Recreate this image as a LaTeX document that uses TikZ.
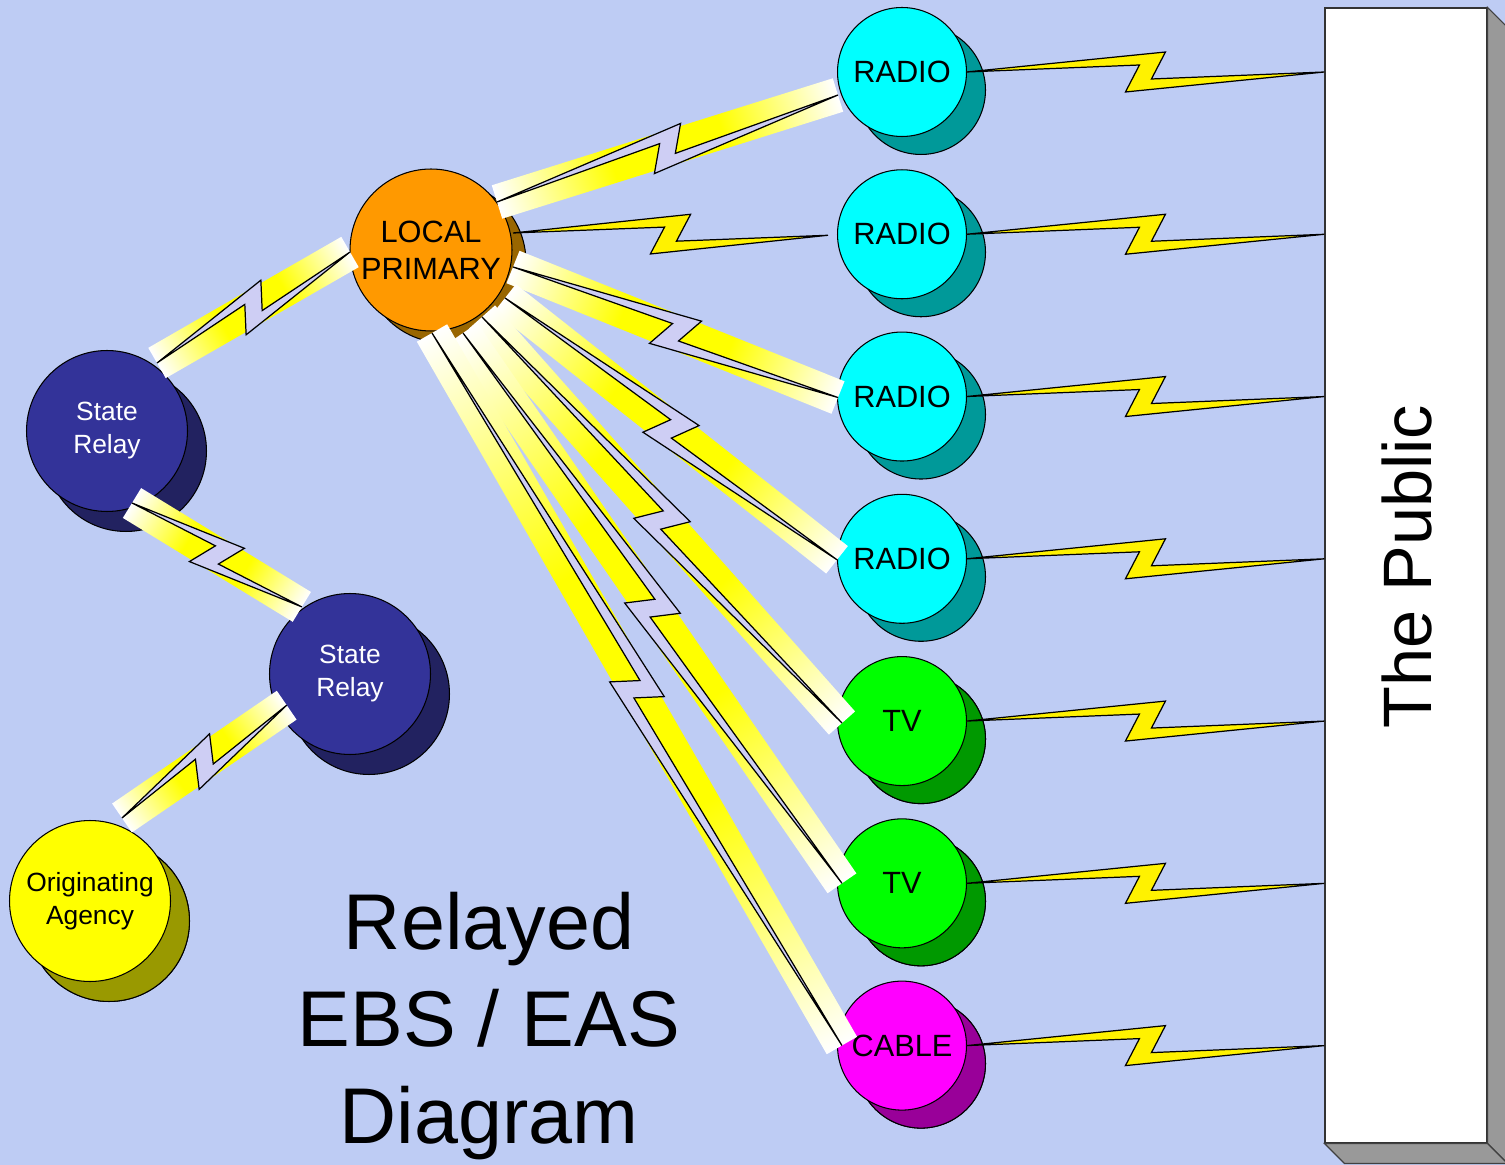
\documentclass[tikz,border=0pt]{standalone}
\usepackage{fontspec}
\setmainfont{Liberation Sans}
\usetikzlibrary{calc}
\usetikzlibrary{positioning}
\usetikzlibrary{shadows}

\definecolor{bgblue}{RGB}{190,204,244}
\definecolor{boltlav}{RGB}{206,206,244}
\definecolor{radiocyan}{RGB}{0,255,255}
\definecolor{radioshade}{RGB}{0,153,153}
\definecolor{tvgreen}{RGB}{0,255,0}
\definecolor{tvshade}{RGB}{0,153,0}
\definecolor{cablemag}{RGB}{255,0,255}
\definecolor{cableshade}{RGB}{153,0,153}
\definecolor{localorange}{RGB}{255,153,0}
\definecolor{localshade}{RGB}{153,102,0}
\definecolor{relaynavy}{RGB}{51,51,153}
\definecolor{relayshade}{RGB}{34,34,96}
\definecolor{originyellow}{RGB}{255,255,0}
\definecolor{originshade}{RGB}{153,153,0}
\definecolor{pubgray}{RGB}{153,153,153}

\pgfdeclarehorizontalshading{bandshade}{100bp}{color(0bp)=(white); color(25bp)=(white); color(42bp)=(yellow);
  color(58bp)=(yellow); color(75bp)=(white); color(100bp)=(white)}

\tikzset{
  disc/.style={circle, draw=black, line width=0.6pt, inner sep=0pt, outer sep=0pt, align=center},
  radio/.style={disc, minimum size=2.58cm, fill=radiocyan, font=\fontsize{17.5}{21}\selectfont,
    drop shadow={opacity=1, fill=radioshade, draw=black, shadow xshift=0.38cm, shadow yshift=-0.36cm}},
  tv/.style={radio, fill=tvgreen,
    drop shadow={opacity=1, fill=tvshade, draw=black, shadow xshift=0.38cm, shadow yshift=-0.36cm}},
  cable/.style={radio, fill=cablemag,
    drop shadow={opacity=1, fill=cableshade, draw=black, shadow xshift=0.38cm, shadow yshift=-0.36cm}},
  local/.style={disc, minimum size=3.24cm, fill=localorange, font=\fontsize{17.5}{21}\selectfont,
    drop shadow={opacity=1, fill=localshade, draw=black, shadow xshift=0.28cm, shadow yshift=-0.24cm}},
  relay/.style={disc, minimum size=3.22cm, fill=relaynavy, text=white, font=\fontsize{15}{18.8}\selectfont,
    drop shadow={opacity=1, fill=relayshade, draw=black, shadow xshift=0.38cm, shadow yshift=-0.4cm}},
  origin/.style={relay, fill=originyellow, text=black,
    drop shadow={opacity=1, fill=originshade, draw=black, shadow xshift=0.38cm, shadow yshift=-0.4cm}},
  bolt/.style={draw=black, line width=0.7pt, line join=miter},
  pubbox/.style={rectangle, draw=black!80, line width=0.7pt, fill=white, minimum width=3.24cm, minimum height=22.7cm},
  pubside/.style={draw=black!75, line width=0.7pt, fill=pubgray},
  pubtext/.style={font=\fontsize{39}{46}\selectfont},
  title/.style={align=center, font=\fontsize{45}{55}\selectfont}
}

\makeatletter
\newdimen\lkdx
\newdimen\lkdy
\newcommand\lkmeasure{%
  \pgfpointdiff{\pgfpointanchor{lka}{center}}{\pgfpointanchor{lkb}{center}}%
  \lkdx=\pgf@x \lkdy=\pgf@y
  \pgfmathanglebetweenpoints{\pgfpointanchor{lka}{center}}{\pgfpointanchor{lkb}{center}}%
  \global\let\lkang\pgfmathresult
  \pgfmathveclen{\lkdx}{\lkdy}%
  \global\let\lklen\pgfmathresult}
\makeatother

% wide relay link: shaded band with a bolt on top
\newcommand\biglink[2]{%
  \coordinate (lka) at (#1);
  \coordinate (lkb) at (#2);
  \lkmeasure
  \begin{scope}[transform canvas={shift={(lka)}, rotate=\lkang}]
  \shade[shading=bandshade] (0cm,-0.35cm) rectangle (\lklen pt,0.35cm);
  \draw[bolt, fill=boltlav] (0cm,0cm) -- (\lklen pt/2+0.4cm,0.4cm) -- (\lklen pt/2+0.12cm,-0.14cm) -- (\lklen pt,0cm)
    -- (\lklen pt/2-0.4cm,-0.4cm) -- (\lklen pt/2-0.12cm,0.14cm) -- cycle;
  \end{scope}}

% plain yellow bolt
\newcommand\smallbolt[2]{%
  \coordinate (lka) at (#1);
  \coordinate (lkb) at (#2);
  \lkmeasure
  \draw[bolt, fill=yellow, shift={(lka)}, rotate=\lkang] (0cm,0cm) -- (\lklen pt/2+0.4cm,0.4cm) -- (\lklen pt/2+0.12cm,-0.14cm)
    -- (\lklen pt,0cm) -- (\lklen pt/2-0.4cm,-0.4cm) -- (\lklen pt/2-0.12cm,0.14cm) -- cycle;}

\begin{document}
\begin{tikzpicture}[x=0.02cm, y=-0.02cm]
\useasboundingbox (0,0) rectangle (1505,1165);
\clip (0,0) rectangle (1505,1165);
\fill[bgblue] (0,0) rectangle (1505,1165);

% the public
\node[pubbox] (pub) at (1406,575.5) {};
\draw[pubside] (pub.north east) -- ++(20,20) -- ($(pub.south east)+(20,20)$) -- (pub.south east) -- cycle;
\draw[pubside] (pub.south west) -- (pub.south east) -- ++(20,20) -- ($(pub.south west)+(20,20)$) -- cycle;
\node[pubtext, rotate=90] (pubt) at ($(pub)+(1,-9)$) {The Public};

% stations
\node[radio] (r1) at (902,72) {RADIO};
\node[radio, below=0.666cm of r1] (r2) {RADIO};
\node[radio, below=0.666cm of r2] (r3) {RADIO};
\node[radio, below=0.666cm of r3] (r4) {RADIO};
\node[tv, below=0.666cm of r4] (tv1) {TV};
\node[tv, below=0.666cm of tv1] (tv2) {TV};
\node[cable, below=0.666cm of tv2] (cab) {CABLE};

\node[local] (loc) at (431,250) {LOCAL\\PRIMARY};
\node[relay] (sr1) at (107,431) {State\\Relay};
\node[relay] (sr2) at (350,674) {State\\Relay};
\node[origin] (org) at (90,901) {Originating\\Agency};

\node[title] (ttl) at (489,1026) {Relayed\\EBS / EAS\\Diagram};

% relay chain
\biglink{$(org)+(32,-83)$}{$(sr2)+(-63,31)$}
\biglink{$(sr1)+(25,72)$}{$(sr2)+(-48,-67)$}
\biglink{$(sr1)+(50,-68)$}{$(loc)+(-81,2)$}

% local primary to stations
\biglink{$(loc)+(66,-48)$}{$(r1)+(-64,23)$}
\smallbolt{$(loc)+(82,-17)$}{$(r2)+(-74,1)$}
\biglink{$(loc)+(82,17)$}{$(r3)+(-64,1)$}
\biglink{$(loc)+(74,48)$}{$(r4)+(-65,1)$}
\biglink{$(loc)+(51,67)$}{$(tv1)+(-60,2)$}
\biglink{$(loc)+(32,83)$}{$(tv2)+(-60,0)$}
\biglink{$(loc)+(1,83)$}{$(cab)+(-60,0)$}

% stations to the public
\foreach \st in {r1,r2,r3,r4,tv1,tv2,cab}{
  \smallbolt{\st.east}{\st.east -| pub.west}
}

\end{tikzpicture}
\end{document}
